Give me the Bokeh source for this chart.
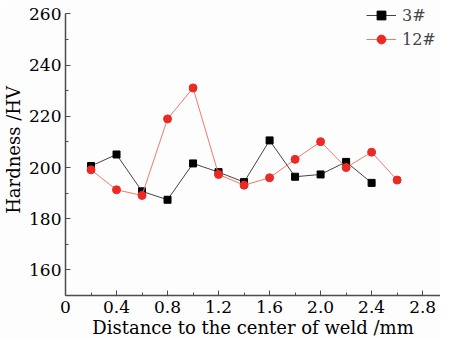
from bokeh.plotting import figure
from bokeh.models import Range1d, FixedTicker, CustomJSTickFormatter, Legend, LegendItem
from bokeh.embed import file_html
from bokeh.resources import INLINE

# Data
x3 = [0.2, 0.4, 0.6, 0.8, 1.0, 1.2, 1.4, 1.6, 1.8, 2.0, 2.2, 2.4]
h3 = [200.6, 205.1, 190.7, 187.4, 201.6, 198.2, 194.3, 210.6, 196.4, 197.3, 202.2, 194.0]
x12 = [0.2, 0.4, 0.6, 0.8, 1.0, 1.2, 1.4, 1.6, 1.8, 2.0, 2.2, 2.4, 2.6]
h12 = [199.1, 191.3, 189.1, 219.0, 231.1, 197.3, 193.1, 196.0, 203.2, 210.1, 200.0, 206.0, 195.1]
x_ticks = [0, 0.4, 0.8, 1.2, 1.6, 2.0, 2.4, 2.8]
x_minor = [0.2, 0.6, 1.0, 1.4, 1.8, 2.2, 2.6]
y_ticks = [160, 180, 200, 220, 240, 260]
y_minor = [150, 170, 190, 210, 230, 250]

FONT = "DejaVu Serif"
AX = "#4d4d4d"

p = figure(width=440, height=340, output_backend="svg", toolbar_location=None,
           x_range=Range1d(0, 2.94), y_range=Range1d(150, 263.7),
           min_border_left=58, min_border_right=0, min_border_top=4, min_border_bottom=30)
p.outline_line_color = None
p.grid.visible = False
p.background_fill_color = "#fdfdfd"
p.border_fill_color = "#fdfdfd"

for ax in (p.xaxis[0], p.yaxis[0]):
    ax.axis_line_color = AX
    ax.axis_line_width = 1.5
    ax.major_tick_line_color = AX
    ax.minor_tick_line_color = AX
    ax.major_tick_in = 5
    ax.major_tick_out = 0
    ax.minor_tick_in = 3
    ax.minor_tick_out = 0
    ax.major_label_text_font = FONT
    ax.major_label_text_font_size = "17px"
    ax.major_label_text_color = "black"
    ax.axis_label_text_font = FONT
    ax.axis_label_text_font_size = "18px"
    ax.axis_label_text_font_style = "normal"
    ax.axis_label_text_color = "black"

p.yaxis[0].bounds = (150, 260)
p.xaxis[0].ticker = FixedTicker(ticks=x_ticks, minor_ticks=x_minor)
p.yaxis[0].ticker = FixedTicker(ticks=y_ticks, minor_ticks=y_minor)
p.xaxis[0].formatter = CustomJSTickFormatter(code="return tick == 0 ? '0' : tick.toFixed(1);")
p.xaxis[0].axis_label = "Distance to the center of weld /mm"
p.yaxis[0].axis_label = "Hardness /HV"
p.xaxis[0].major_label_standoff = 5
p.xaxis[0].axis_label_standoff = 1
p.yaxis[0].major_label_standoff = 4
p.yaxis[0].axis_label_standoff = 2

l3 = p.line(x3, h3, line_color="#444444", line_width=1)
s3 = p.scatter(x3, h3, marker="square", size=7, fill_color="black", line_color="black")
l12 = p.line(x12, h12, line_color="#f27a68", line_width=1)
s12 = p.scatter(x12, h12, marker="circle", size=8, fill_color="#ec2a24", line_color="#ec2a24")

legend = Legend(items=[LegendItem(label="3#", renderers=[l3, s3]),
                       LegendItem(label="12#", renderers=[l12, s12])],
                location=(301, 245), border_line_color=None, background_fill_alpha=0,
                label_text_font=FONT, label_text_font_size="16px",
                glyph_width=30, glyph_height=22, spacing=2, padding=0, margin=0,
                label_standoff=6)
p.add_layout(legend)

open("out.html", "w").write(file_html(p, INLINE))
